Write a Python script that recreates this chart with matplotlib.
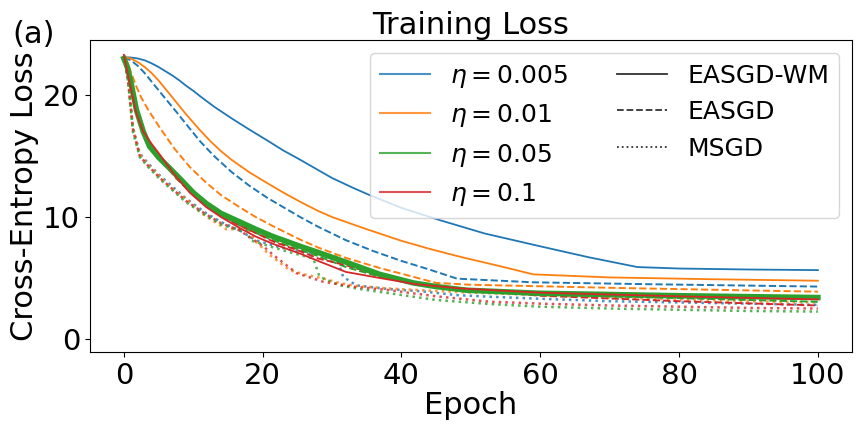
import matplotlib
matplotlib.use("Agg")
import matplotlib.pyplot as plt
from matplotlib.lines import Line2D

# ---------------- data ----------------
lr_labels = [r"$\eta = 0.005$", r"$\eta = 0.01$", r"$\eta = 0.05$", r"$\eta = 0.1$"]
method_labels = ["EASGD-WM", "EASGD", "MSGD"]

# EASGD-WM (solid)
ep_wm_005 = [0, 1, 2, 3, 4, 5, 6, 7, 8, 9, 10, 11, 13, 15.5, 18, 20.6, 23, 25.4, 28, 30, 33, 35.4, 40, 45.5, 52, 60, 67, 74, 80, 90, 100]
loss_wm_005 = [23.1, 23.08, 23.0, 22.85, 22.6, 22.3, 21.95, 21.6, 21.2, 20.75, 20.35, 19.9, 19.05, 18.1, 17.2, 16.3, 15.45, 14.7, 13.85, 13.2, 12.4, 11.8, 10.75, 9.75, 8.65, 7.6, 6.7, 5.9, 5.78, 5.7, 5.65]
ep_wm_01 = [0, 1, 2, 3, 4, 5, 6, 7, 8, 9, 10, 11, 12.5, 14, 15.5, 18, 20.6, 23, 25.4, 28, 30, 33, 35, 40, 44, 48.4, 54, 59, 70, 85, 100]
loss_wm_01 = [23.1, 23.0, 22.7, 22.3, 21.8, 21.2, 20.5, 19.8, 19.1, 18.4, 17.75, 17.1, 16.2, 15.4, 14.7, 13.7, 12.8, 12.0, 11.25, 10.5, 10.0, 9.4, 9.0, 8.05, 7.4, 6.75, 6.0, 5.3, 5.05, 4.9, 4.78]
ep_wm_05 = [0, 0.5, 1, 1.8, 2.8, 3.7, 5, 6.6, 8.5, 10, 11.9, 14, 16.7, 19, 21.5, 25.4, 28, 32, 36.9, 41.7, 45, 49.4, 60, 80, 100]
loss_wm_05 = [23.0, 22.3, 21.1, 18.8, 17.0, 15.8, 14.9, 14.0, 12.9, 12.0, 11.1, 10.3, 9.6, 9.0, 8.4, 7.6, 7.1, 6.3, 5.3, 4.6, 4.3, 4.0, 3.75, 3.55, 3.4]
ep_wm_1 = [0, 0.3, 0.9, 1.8, 2.8, 4, 5.2, 7.1, 9.5, 11.9, 14, 16.7, 19, 21.5, 25.4, 28, 32, 36.9, 42, 48.4, 60, 80, 100]
loss_wm_1 = [23.3, 22.5, 20.8, 18.5, 17.0, 16.0, 15.1, 13.6, 12.0, 10.8, 10.0, 9.1, 8.4, 7.8, 7.0, 6.4, 5.5, 5.0, 4.5, 4.15, 3.8, 3.5, 3.25]

# EASGD (dashed)
ep_ea_005 = [0, 1, 2, 3, 4, 5, 6, 7.6, 9, 11, 13, 15.5, 18, 20.6, 23, 25.4, 28, 32, 36, 40, 44, 48, 59, 75, 100]
loss_ea_005 = [23.1, 22.85, 22.4, 21.8, 21.1, 20.4, 19.7, 18.6, 17.6, 16.2, 15.0, 13.7, 12.6, 11.6, 10.8, 10.0, 9.2, 8.1, 7.2, 6.4, 5.7, 4.95, 4.65, 4.5, 4.3]
ep_ea_01 = [0, 0.5, 1, 1.8, 2.5, 3.5, 5.2, 7.3, 9.5, 11.9, 14, 16.7, 19, 21.5, 25.4, 28, 32, 37, 41.7, 45, 50, 70, 100]
loss_ea_01 = [23.1, 22.7, 21.9, 20.7, 19.8, 18.8, 17.3, 15.6, 14.1, 12.8, 11.8, 10.8, 10.0, 9.25, 8.15, 7.5, 6.65, 5.8, 5.1, 4.6, 4.45, 4.2, 3.88]
ep_ea_05 = [0, 0.5, 1, 2, 3, 4, 5.5, 7.5, 10, 12, 14, 16.7, 19, 21.5, 25.4, 28, 32, 36.9, 42, 48, 60, 80, 100]
loss_ea_05 = [23.0, 22.0, 20.5, 18.3, 16.8, 15.8, 14.7, 13.4, 12.0, 11.0, 10.2, 9.3, 8.7, 8.1, 7.3, 6.8, 5.9, 5.1, 4.5, 4.1, 3.65, 3.35, 3.05]
ep_ea_1 = [0, 0.5, 1, 2, 3, 4, 5.5, 7.5, 10, 12, 14, 16.7, 19, 21.5, 25.4, 28, 32, 36.9, 42, 48, 60, 80, 100]
loss_ea_1 = [23.2, 22.2, 20.6, 18.2, 16.7, 15.7, 14.6, 13.2, 11.8, 10.9, 10.1, 9.3, 8.7, 8.0, 7.2, 6.6, 6.05, 5.2, 4.6, 4.15, 3.55, 3.1, 2.75]

# MSGD (dotted)
ep_ms_005 = [0, 0.6, 1.3, 2.3, 3.5, 5.2, 7, 9, 11.9, 14, 16.7, 19, 22, 24, 27, 30.6, 31.6, 33.5, 38, 43.1, 48, 52.7, 60, 70, 80, 90, 100]
loss_ms_005 = [23.1, 21.3, 17.4, 15.2, 14.4, 13.4, 12.5, 11.5, 10.3, 9.6, 8.9, 8.1, 7.6, 7.3, 7.0, 6.75, 5.1, 4.4, 4.1, 3.9, 3.6, 3.47, 3.3, 3.1, 3.0, 2.9, 2.8]
ep_ms_01 = [0, 0.6, 1.3, 2.3, 3.5, 5.2, 7, 9, 11, 12.5, 14.8, 16.7, 17.7, 19, 21, 23.9, 26, 28.7, 31, 33.5, 38, 43, 48, 52.7, 60, 70, 80, 90, 100]
loss_ms_01 = [23.1, 21.4, 17.3, 15.1, 14.3, 13.3, 12.3, 11.5, 10.4, 9.8, 9.0, 9.0, 9.2, 8.0, 6.9, 5.65, 5.3, 4.97, 4.6, 4.35, 4.15, 4.0, 3.85, 3.75, 3.6, 3.4, 3.25, 3.1, 3.0]
ep_ms_05 = [0, 0.6, 1.3, 2.3, 3.5, 5.2, 7, 9, 11.9, 14, 16.7, 17.7, 18.2, 21, 24, 27.3, 28.2, 31.1, 34, 38.3, 45, 52.7, 60, 70, 80, 90, 100]
loss_ms_05 = [23.0, 21.2, 17.0, 14.9, 14.1, 13.1, 12.2, 11.2, 10.1, 9.4, 8.9, 8.9, 8.1, 7.6, 7.1, 6.6, 5.1, 4.4, 4.1, 3.75, 3.2, 2.87, 2.65, 2.5, 2.4, 2.3, 2.25]
ep_ms_1 = [0, 0.6, 1.3, 2.3, 3.5, 5.2, 7, 9, 11.9, 14, 16.7, 18, 20.1, 21.5, 24.9, 28.7, 33, 38.3, 45, 52.7, 60, 70, 80, 90, 100]
loss_ms_1 = [23.2, 21.2, 17.2, 15.0, 14.2, 13.2, 12.3, 11.3, 10.2, 9.5, 8.9, 8.4, 7.6, 6.9, 5.4, 4.7, 4.3, 4.0, 3.5, 3.06, 2.9, 2.75, 2.65, 2.55, 2.5]

x_ticks = [0, 20, 40, 60, 80, 100]
y_ticks = [0, 10, 20]

# ---------------- plot ----------------
colors = ["#1f77b4", "#ff7f0e", "#2ca02c", "#d62728"]

fig = plt.figure(figsize=(8.64, 4.32), dpi=100)
ax = fig.add_axes([0.104, 0.185, 0.882, 0.722])

wm = [(ep_wm_005, loss_wm_005), (ep_wm_01, loss_wm_01), (ep_wm_05, loss_wm_05), (ep_wm_1, loss_wm_1)]
ea = [(ep_ea_005, loss_ea_005), (ep_ea_01, loss_ea_01), (ep_ea_05, loss_ea_05), (ep_ea_1, loss_ea_1)]
ms = [(ep_ms_005, loss_ms_005), (ep_ms_01, loss_ms_01), (ep_ms_05, loss_ms_05), (ep_ms_1, loss_ms_1)]

for i, (x, y) in enumerate(ms):
    ax.plot(x, y, linestyle=":", color=colors[i], lw=1.8, alpha=0.8)
for i, (x, y) in enumerate(ea):
    ax.plot(x, y, linestyle="--", color=colors[i], lw=1.4)
for i, (x, y) in enumerate(wm):
    ax.plot(x, y, linestyle="-", color=colors[i], lw=4.0 if i == 2 else 1.3)

ax.set_xlim(-4.9, 104.9)
ax.set_ylim(-1.07, 24.5)
ax.set_xticks(x_ticks)
ax.set_yticks(y_ticks)
ax.tick_params(labelsize=21)
ax.set_xlabel("Epoch", fontsize=22, labelpad=1)
ax.set_ylabel("Cross-Entropy Loss", fontsize=22, labelpad=3)
ax.set_title("Training Loss", fontsize=22, pad=4)
fig.text(0.014, 0.9, "(a)", fontsize=22)

handles = [Line2D([0], [0], color=c, lw=1.5, alpha=0.8) for c in colors]
handles += [Line2D([0], [0], color="black", lw=1.3, alpha=0.8, linestyle=s) for s in ["-", "--", ":"]]
labels = lr_labels + method_labels
ax.legend(handles, labels, ncol=2, loc="upper right", fontsize=18, handlelength=2.0)

fig.savefig("out.png", dpi=100)
